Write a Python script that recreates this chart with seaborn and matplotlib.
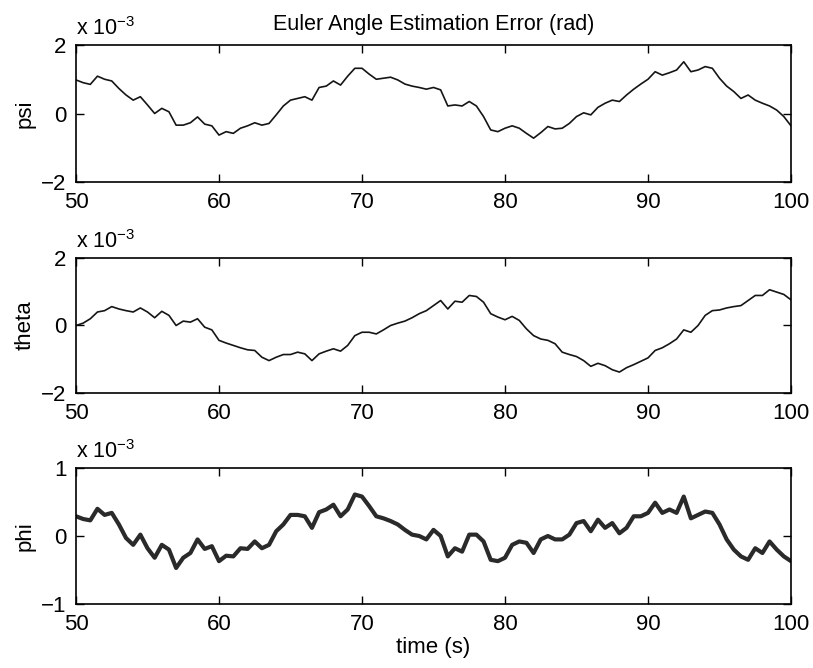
import numpy as np
import pandas as pd
import matplotlib
matplotlib.use("Agg")
import matplotlib.pyplot as plt
import seaborn as sns

# time samples (s)
time_s = np.arange(50.0, 100.01, 0.5)

# values in units of 1e-3 rad
psi = [0.98, 0.90, 0.85, 1.09, 1.00, 0.95, 0.73, 0.54, 0.39, 0.49,
       0.25, 0.00, 0.15, 0.05, -0.34, -0.34, -0.27, -0.10, -0.31, -0.36,
       -0.63, -0.53, -0.58, -0.43, -0.36, -0.27, -0.34, -0.29, -0.04, 0.22,
       0.39, 0.44, 0.49, 0.39, 0.76, 0.80, 0.95, 0.83, 1.09, 1.32,
       1.32, 1.15, 1.00, 1.03, 1.06, 0.98, 0.86, 0.80, 0.76, 0.71,
       0.76, 0.69, 0.22, 0.25, 0.22, 0.35, 0.22, -0.09, -0.48, -0.53,
       -0.43, -0.36, -0.43, -0.58, -0.72, -0.56, -0.38, -0.45, -0.43, -0.29,
       -0.09, 0.02, -0.04, 0.18, 0.30, 0.39, 0.35, 0.54, 0.71, 0.86,
       1.00, 1.22, 1.12, 1.19, 1.27, 1.51, 1.22, 1.27, 1.37, 1.32,
       1.03, 0.80, 0.64, 0.44, 0.54, 0.39, 0.30, 0.22, 0.10, -0.09,
       -0.36]

theta = [0.00, 0.07, 0.20, 0.40, 0.44, 0.56, 0.49, 0.44, 0.40, 0.52,
         0.40, 0.23, 0.42, 0.30, 0.00, 0.13, 0.10, 0.20, -0.05, -0.13,
         -0.44, -0.52, -0.59, -0.66, -0.72, -0.74, -0.94, -1.04, -0.94, -0.86,
         -0.86, -0.79, -0.84, -1.04, -0.84, -0.76, -0.69, -0.76, -0.59, -0.30,
         -0.20, -0.20, -0.25, -0.13, 0.00, 0.07, 0.13, 0.23, 0.35, 0.44,
         0.59, 0.74, 0.49, 0.72, 0.69, 0.89, 0.86, 0.69, 0.35, 0.25,
         0.17, 0.27, 0.15, -0.10, -0.30, -0.40, -0.44, -0.54, -0.79, -0.86,
         -0.92, -1.04, -1.21, -1.12, -1.19, -1.31, -1.38, -1.25, -1.16, -1.06,
         -0.96, -0.74, -0.66, -0.54, -0.40, -0.13, -0.20, 0.00, 0.30, 0.44,
         0.46, 0.52, 0.56, 0.59, 0.74, 0.89, 0.89, 1.06, 0.99, 0.92,
         0.76]

phi = [0.29, 0.25, 0.23, 0.40, 0.31, 0.34, 0.17, -0.03, -0.13, 0.02,
       -0.18, -0.32, -0.13, -0.20, -0.47, -0.32, -0.25, -0.05, -0.19, -0.15,
       -0.37, -0.29, -0.30, -0.18, -0.19, -0.08, -0.18, -0.13, 0.07, 0.17,
       0.31, 0.31, 0.29, 0.12, 0.35, 0.39, 0.46, 0.29, 0.39, 0.61,
       0.58, 0.44, 0.29, 0.26, 0.22, 0.17, 0.09, 0.02, 0.00, -0.05,
       0.09, 0.00, -0.30, -0.18, -0.23, 0.02, 0.02, -0.08, -0.35, -0.37,
       -0.32, -0.13, -0.08, -0.10, -0.25, -0.05, 0.00, -0.05, -0.05, 0.02,
       0.19, 0.22, 0.07, 0.24, 0.12, 0.19, 0.04, 0.12, 0.29, 0.29,
       0.34, 0.49, 0.34, 0.39, 0.34, 0.58, 0.26, 0.31, 0.36, 0.34,
       0.17, -0.05, -0.20, -0.30, -0.35, -0.18, -0.25, -0.08, -0.20, -0.30,
       -0.37]

panel_names = ["psi", "theta", "phi"]
panel_limits = [(-2, 2), (-2, 2), (-1, 1)]
panel_ticks = [[-2, 0, 2], [-2, 0, 2], [-1, 0, 1]]
x_ticks = [50, 60, 70, 80, 90, 100]
title_text = "Euler Angle Estimation Error (rad)"
xlabel_text = "time (s)"
offset_text = r"x 10$^{-3}$"

sns.set_style("ticks")
plt.rcParams["font.family"] = ["Liberation Sans", "DejaVu Sans"]
plt.rcParams["mathtext.fontset"] = "custom"
plt.rcParams["mathtext.rm"] = "Liberation Sans"
plt.rcParams["text.color"] = "black"
plt.rcParams["axes.labelcolor"] = "black"
plt.rcParams["xtick.color"] = "black"
plt.rcParams["ytick.color"] = "black"
plt.rcParams["axes.titlecolor"] = "black"

fig = plt.figure(figsize=(8.13, 6.68), dpi=100)
W, H = 813.0, 668.0
left, right = 76 / W, 791 / W
boxes = [(45, 182), (258, 393), (468, 604)]
series = [psi, theta, phi]
widths = [1.2, 1.2, 3.0]
colors = ["#151515", "#151515", "#2a2a2a"]

for i, (name, vals) in enumerate(zip(panel_names, series)):
    top_px, bot_px = boxes[i]
    ax = fig.add_axes([left, 1 - bot_px / H, right - left, (bot_px - top_px) / H])
    df = pd.DataFrame({"t": time_s, "v": vals})
    sns.lineplot(data=df, x="t", y="v", ax=ax, color=colors[i],
                 linewidth=widths[i], estimator=None)
    ax.set_xlim(50, 100)
    ax.set_ylim(*panel_limits[i])
    ax.set_xticks(x_ticks)
    ax.set_yticks(panel_ticks[i])
    ax.tick_params(direction="in", length=6, width=1, top=True, right=True,
                   labelsize=16, pad=7, colors="black")
    for sp in ax.spines.values():
        sp.set_visible(True)
        sp.set_linewidth(1.2)
        sp.set_color("black")
    ax.set_ylabel(name, fontsize=16, labelpad=4, color="black")
    ax.set_xlabel("")
    ax.text(0.0, 1.035, offset_text, transform=ax.transAxes, fontsize=15.5,
            ha="left", va="bottom", color="black")
    if i == 0:
        ax.set_title(title_text, fontsize=15.5, pad=11, color="black")
    if i == 2:
        ax.set_xlabel(xlabel_text, fontsize=16, labelpad=2, color="black")

fig.savefig("out.png", dpi=100, facecolor="white")
